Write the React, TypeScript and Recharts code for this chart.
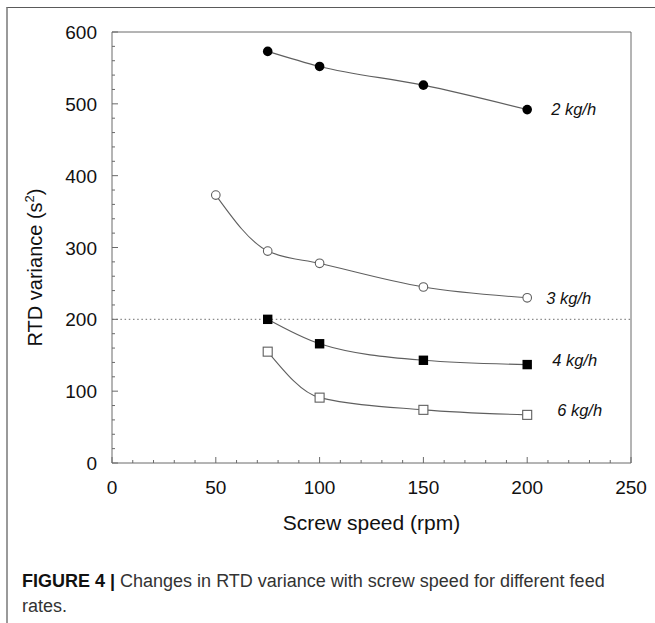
import React from "react";
import { LineChart, Line, XAxis, YAxis, ReferenceLine } from "recharts";

// screw speed (rpm) and RTD variance (s^2) per feed rate
const speed2 = [75, 100, 150, 200];
const variance2 = [573, 552, 526, 492];
const speed3 = [50, 75, 100, 150, 200];
const variance3 = [373, 295, 278, 245, 230];
const speed4 = [75, 100, 150, 200];
const variance4 = [200, 166, 143, 137];
const speed6 = [75, 100, 150, 200];
const variance6 = [155, 91, 74, 67];

const seriesNames = ["2 kg/h", "3 kg/h", "4 kg/h", "6 kg/h"];

const xTicks = [0, 10, 20, 30, 40, 50, 60, 70, 80, 90, 100, 110, 120, 130, 140, 150, 160, 170, 180, 190, 200, 210, 220, 230, 240, 250];
const xLabels = [0, 50, 100, 150, 200, 250];
const yTicks = [0, 20, 40, 60, 80, 100, 120, 140, 160, 180, 200, 220, 240, 260, 280, 300, 320, 340, 360, 380, 400, 420, 440, 460, 480, 500, 520, 540, 560, 580, 600];
const yLabels = [0, 100, 200, 300, 400, 500, 600];
const limitLine = 200;

const AXIS = "#6a6a6a";
const LINE = "#5f5f5f";
const FONT = "'Liberation Sans', Arial, sans-serif";

const toRows = (xs: number[], ys: number[]) => xs.map((x, i) => ({ speed: x, rtd: ys[i] }));

const rows2 = toRows(speed2, variance2);
const rows3 = toRows(speed3, variance3);
const rows4 = toRows(speed4, variance4);
const rows6 = toRows(speed6, variance6);

const BottomTick = (props: any) => {
  const { x, y, payload } = props;
  const major = xLabels.includes(payload.value);
  return (
    <g>
      <line x1={x} y1={y} x2={x} y2={y - (major ? 6 : 3)} stroke={AXIS} />
      {major && (
        <text x={x} y={y + 31} textAnchor="middle" fontSize={19} fontFamily={FONT} fill="#111">
          {payload.value}
        </text>
      )}
    </g>
  );
};

const TopTick = (props: any) => {
  const { x, y, payload } = props;
  const major = xLabels.includes(payload.value);
  return <line x1={x} y1={y} x2={x} y2={y + (major ? 6 : 3)} stroke={AXIS} />;
};

const LeftTick = (props: any) => {
  const { x, y, payload } = props;
  const major = yLabels.includes(payload.value);
  return (
    <g>
      <line x1={x} y1={y} x2={x + (major ? 6 : 3)} y2={y} stroke={AXIS} />
      {major && (
        <text x={x - 15} y={y + 7} textAnchor="end" fontSize={19} fontFamily={FONT} fill="#111">
          {payload.value}
        </text>
      )}
    </g>
  );
};

const RightTick = (props: any) => {
  const { x, y, payload } = props;
  const major = yLabels.includes(payload.value);
  return <line x1={x} y1={y} x2={x - (major ? 6 : 3)} y2={y} stroke={AXIS} />;
};

const YTitle = (props: any) => {
  const { viewBox } = props;
  const cx = viewBox.x + 42;
  const cy = viewBox.y + viewBox.height / 2 + 20;
  return (
    <text
      x={cx}
      y={cy}
      transform={`rotate(-90 ${cx} ${cy})`}
      textAnchor="middle"
      fontSize={20}
      fontFamily={FONT}
      fill="#111"
    >
      RTD variance (s
      <tspan dy={-8} fontSize={13}>2</tspan>
      <tspan dy={8}>)</tspan>
    </text>
  );
};

const XTitle = (props: any) => {
  const { viewBox } = props;
  return (
    <text
      x={viewBox.x + viewBox.width / 2}
      y={viewBox.y + 67}
      textAnchor="middle"
      fontSize={21}
      fontFamily={FONT}
      fill="#111"
    >
      Screw speed (rpm)
    </text>
  );
};

const seriesLabel = (name: string, count: number, dx: number, dy: number) => (props: any) => {
  const { x, y, index } = props;
  if (index !== count - 1) return <g />;
  return (
    <text x={x + dx} y={y + dy} fontSize={16.5} fontStyle="italic" fontFamily={FONT} fill="#111">
      {name}
    </text>
  );
};

const FilledCircle = (props: any) => {
  const { cx, cy } = props;
  return <circle cx={cx} cy={cy} r={4.8} fill="#000" />;
};
const OpenCircle = (props: any) => {
  const { cx, cy } = props;
  return <circle cx={cx} cy={cy} r={4.3} fill="#fff" stroke={LINE} strokeWidth={1.1} />;
};
const FilledSquare = (props: any) => {
  const { cx, cy } = props;
  return <rect x={cx - 4.7} y={cy - 4.7} width={9.4} height={9.4} fill="#000" />;
};
const OpenSquare = (props: any) => {
  const { cx, cy } = props;
  return <rect x={cx - 4.5} y={cy - 4.5} width={9} height={9} fill="#fff" stroke={LINE} strokeWidth={1.1} />;
};

export default function App() {
  return (
    <div style={{ position: "absolute", left: 0, top: 0, width: 655, height: 623, background: "#fff", overflow: "hidden" }}>
      <div
        style={{
          position: "absolute",
          left: 6,
          top: 7,
          width: 660,
          height: 640,
          borderTop: "1.5px solid #5a5a5a",
          borderLeft: "2px solid #9a9a9a",
        }}
      />
      <div style={{ position: "absolute", left: 0, top: 0 }}>
        <LineChart width={655} height={560} margin={{ top: 32, right: 24, bottom: 17, left: 0 }}>
          <XAxis
            xAxisId={0}
            dataKey="speed"
            type="number"
            domain={[0, 250]}
            ticks={xTicks}
            interval={0}
            tick={<BottomTick />}
            tickLine={false}
            tickSize={0}
            tickMargin={0}
            height={80}
            axisLine={{ stroke: AXIS }}
            label={<XTitle />}
          />
          <XAxis
            xAxisId="top"
            orientation="top"
            mirror
            type="number"
            domain={[0, 250]}
            ticks={xTicks}
            interval={0}
            tick={<TopTick />}
            tickLine={false}
            tickSize={0}
            tickMargin={0}
            axisLine={{ stroke: AXIS }}
          />
          <YAxis
            yAxisId={0}
            type="number"
            domain={[0, 600]}
            ticks={yTicks}
            interval={0}
            tick={<LeftTick />}
            tickLine={false}
            tickSize={0}
            tickMargin={0}
            width={112}
            axisLine={{ stroke: AXIS }}
            label={<YTitle />}
          />
          <YAxis
            yAxisId="right"
            orientation="right"
            mirror
            type="number"
            domain={[0, 600]}
            ticks={yTicks}
            interval={0}
            tick={<RightTick />}
            tickLine={false}
            tickSize={0}
            tickMargin={0}
            axisLine={{ stroke: AXIS }}
          />
          <ReferenceLine y={limitLine} stroke="#8a8a8a" strokeDasharray="1.5 2.7" strokeWidth={1.2} />
          <Line
            data={rows2}
            dataKey="rtd"
            type="monotone"
            stroke={LINE}
            strokeWidth={1.1}
            dot={<FilledCircle />}
            label={seriesLabel(seriesNames[0], rows2.length, 24, 5)}
            isAnimationActive={false}
          />
          <Line
            data={rows3}
            dataKey="rtd"
            type="monotone"
            stroke={LINE}
            strokeWidth={1.1}
            dot={<OpenCircle />}
            label={seriesLabel(seriesNames[1], rows3.length, 19, 6)}
            isAnimationActive={false}
          />
          <Line
            data={rows4}
            dataKey="rtd"
            type="monotone"
            stroke={LINE}
            strokeWidth={1.1}
            dot={<FilledSquare />}
            label={seriesLabel(seriesNames[2], rows4.length, 25, 1)}
            isAnimationActive={false}
          />
          <Line
            data={rows6}
            dataKey="rtd"
            type="monotone"
            stroke={LINE}
            strokeWidth={1.1}
            dot={<OpenSquare />}
            label={seriesLabel(seriesNames[3], rows6.length, 30, 1)}
            isAnimationActive={false}
          />
        </LineChart>
      </div>
      <div
        style={{
          position: "absolute",
          left: 22,
          top: 569,
          fontFamily: FONT,
          fontSize: 18,
          lineHeight: "25px",
          color: "#333",
          whiteSpace: "nowrap",
        }}
      >
        <b style={{ color: "#111" }}>FIGURE 4 |</b> Changes in RTD variance with screw speed for different feed
        <br />
        rates.
      </div>
    </div>
  );
}
